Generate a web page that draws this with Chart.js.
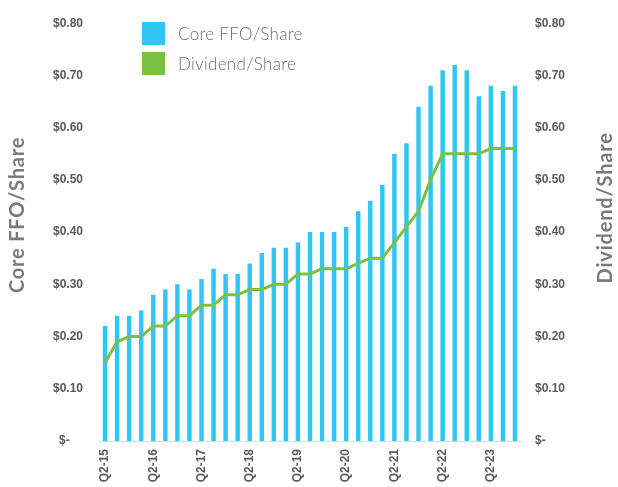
<!DOCTYPE html>
<html>
<head>
<meta charset="utf-8">
<script src="https://cdn.jsdelivr.net/npm/chart.js@4/dist/chart.umd.min.js"></script>
<style>
  html, body { margin: 0; padding: 0; background: #ffffff; }
  #wrap { position: relative; width: 618px; height: 487px; }
  #legend { position: absolute; left: 142px; top: 18.5px; font-family: Lato, "Open Sans", sans-serif; font-weight: 300; font-size: 17px; letter-spacing: 0.3px; color: #6e6e6e; }
  .item { display: flex; align-items: center; height: 30px; }
  .sw { width: 23px; height: 23px; margin-right: 13px; }
</style>
</head>
<body>
<div id="wrap">
  <canvas id="c" width="618" height="487"></canvas>
  <div id="legend"></div>
</div>
<script>
// ---- data ----
const categories = [
  'Q2-15','Q3-15','Q4-15',
  'Q1-16','Q2-16','Q3-16','Q4-16',
  'Q1-17','Q2-17','Q3-17','Q4-17',
  'Q1-18','Q2-18','Q3-18','Q4-18',
  'Q1-19','Q2-19','Q3-19','Q4-19',
  'Q1-20','Q2-20','Q3-20','Q4-20',
  'Q1-21','Q2-21','Q3-21','Q4-21',
  'Q1-22','Q2-22','Q3-22','Q4-22',
  'Q1-23','Q2-23','Q3-23','Q4-23'
];
const coreFFO = [
  0.22,0.24,0.24,
  0.25,0.28,0.29,0.30,
  0.29,0.31,0.33,0.32,
  0.32,0.34,0.36,0.37,
  0.37,0.38,0.40,0.40,
  0.40,0.41,0.44,0.46,
  0.49,0.55,0.57,0.64,
  0.68,0.71,0.72,0.71,
  0.66,0.68,0.67,0.68
];
const dividend = [
  0.15,0.19,0.20,
  0.20,0.22,0.22,0.24,
  0.24,0.26,0.26,0.28,
  0.28,0.29,0.29,0.30,
  0.30,0.32,0.32,0.33,
  0.33,0.33,0.34,0.35,
  0.35,0.38,0.41,0.44,
  0.50,0.55,0.55,0.55,
  0.55,0.56,0.56,0.56
];
const xTickLabels = ['Q2-15','Q2-16','Q2-17','Q2-18','Q2-19','Q2-20','Q2-21','Q2-22','Q2-23'];
const yTickLabels = ['$-','$0.10','$0.20','$0.30','$0.40','$0.50','$0.60','$0.70','$0.80'];
const seriesNames = ['Core FFO/Share', 'Dividend/Share'];
const axisTitles = ['Core FFO/Share', 'Dividend/Share'];
const colors = ['#31C5F4', '#7AC143'];

// ---- legend (HTML) ----
const legendEl = document.getElementById('legend');
seriesNames.forEach((n, i) => {
  const d = document.createElement('div');
  d.className = 'item';
  const s = document.createElement('div');
  s.className = 'sw';
  s.style.background = colors[i];
  const t = document.createElement('span');
  t.textContent = n;
  d.appendChild(s); d.appendChild(t);
  legendEl.appendChild(d);
});

const tickFont = { family: '"Liberation Sans", Arial, sans-serif', size: 12, weight: 'bold' };
const tickColor = '#595959';

const axisTitlePlugin = {
  id: 'axisTitles',
  afterDraw(chart) {
    const ctx = chart.ctx;
    const ca = chart.chartArea;
    ctx.save();
    ctx.fillStyle = '#7a7a7a';
    ctx.font = 'bold 20px Lato, "Open Sans", sans-serif';
    if ('letterSpacing' in ctx) ctx.letterSpacing = '0.8px';
    ctx.textAlign = 'center';
    ctx.textBaseline = 'middle';
    // left title
    ctx.save();
    ctx.translate(18, ca.top + (ca.bottom - ca.top) * 0.459);
    ctx.rotate(-Math.PI / 2);
    ctx.fillText(axisTitles[0], 0, 0);
    ctx.restore();
    // right title
    ctx.save();
    ctx.translate(chart.width - 12, ca.top + (ca.bottom - ca.top) * 0.442);
    ctx.rotate(-Math.PI / 2);
    ctx.fillText(axisTitles[1], 0, 0);
    ctx.restore();
    ctx.restore();
  }
};

function yTick(value) {
  const idx = Math.round(value * 10);
  return yTickLabels[idx];
}

new Chart(document.getElementById('c'), {
  type: 'bar',
  data: {
    labels: categories,
    datasets: [
      {
        type: 'line',
        label: seriesNames[1],
        data: dividend,
        yAxisID: 'y1',
        borderColor: colors[1],
        backgroundColor: colors[1],
        borderWidth: 3,
        pointRadius: 0,
        tension: 0,
        order: 0
      },
      {
        type: 'bar',
        label: seriesNames[0],
        data: coreFFO,
        yAxisID: 'y',
        backgroundColor: colors[0],
        barPercentage: 0.37,
        categoryPercentage: 1.0,
        order: 1
      }
    ]
  },
  options: {
    responsive: false,
    animation: false,
    devicePixelRatio: 1,
    layout: { padding: { top: 18, right: 0, bottom: 0, left: 0 } },
    plugins: {
      legend: { display: false },
      tooltip: { enabled: false }
    },
    scales: {
      x: {
        grid: { display: false, drawTicks: false },
        border: { display: true, color: '#d9d9d9', width: 1 },
        ticks: {
          autoSkip: false,
          minRotation: 90,
          maxRotation: 90,
          padding: 8,
          font: tickFont,
          color: tickColor,
          callback: function (v, i) {
            const l = categories[i];
            return xTickLabels.includes(l) ? l : '';
          }
        },
        afterFit: s => { s.height = 46; }
      },
      y: {
        position: 'left',
        min: 0, max: 0.8,
        grid: { display: false, drawTicks: false },
        border: { display: false },
        ticks: {
          stepSize: 0.1,
          padding: 16,
          font: tickFont,
          color: tickColor,
          callback: v => (Math.round(v * 10) === 0 ? yTick(v) + '    ' : yTick(v))
        },
        afterFit: s => { s.width = 99; }
      },
      y1: {
        position: 'right',
        min: 0, max: 0.8,
        grid: { display: false, drawTicks: false },
        border: { display: false },
        ticks: {
          stepSize: 0.1,
          padding: 14,
          font: tickFont,
          color: tickColor,
          callback: v => yTick(v)
        },
        afterFit: s => { s.width = 97; }
      }
    }
  },
  plugins: [axisTitlePlugin]
});
</script>
</body>
</html>
